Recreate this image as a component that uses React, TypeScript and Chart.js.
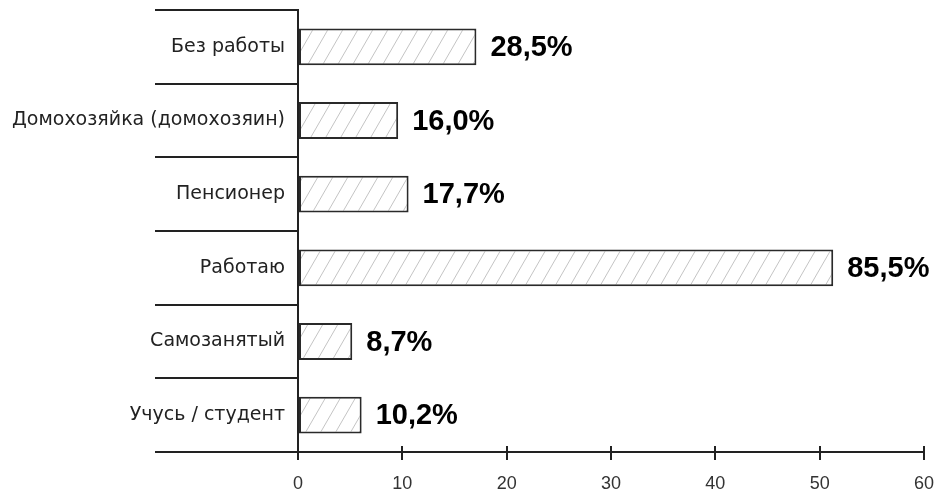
import React, { useEffect, useRef } from "react";
import { Chart, registerables } from "chart.js";

Chart.register(...registerables);

const categories = [
  "Без работы",
  "Домохозяйка (домохозяин)",
  "Пенсионер",
  "Работаю",
  "Самозанятый",
  "Учусь / студент",
];
const barValues = [17.1, 9.6, 10.6, 51.3, 5.2, 6.1];
const valueLabels = ["28,5%", "16,0%", "17,7%", "85,5%", "8,7%", "10,2%"];
const xTicks = [0, 10, 20, 30, 40, 50, 60];

const FONT = "'Liberation Sans', Arial, sans-serif";
const LABEL_FONT = "'DejaVu Sans', Verdana, sans-serif";

function makeHatch(): CanvasPattern | string {
  const c = document.createElement("canvas");
  const w = 15;
  const h = 26;
  c.width = w;
  c.height = h;
  const g = c.getContext("2d");
  if (!g) return "#fff";
  g.fillStyle = "#ffffff";
  g.fillRect(0, 0, w, h);
  g.strokeStyle = "#c4c4c4";
  g.lineWidth = 1;
  g.beginPath();
  const dx = w / h;
  g.moveTo(-2 * dx, h + 2);
  g.lineTo(w + 2 * dx, -2);
  g.moveTo(-w - 2 * dx, h + 2);
  g.lineTo(2 * dx, -2);
  g.moveTo(w - 2 * dx, h + 2);
  g.lineTo(2 * w + 2 * dx, -2);
  g.stroke();
  const p = g.createPattern(c, "repeat");
  return p || "#fff";
}

const valueLabelPlugin = {
  id: "valueLabels",
  afterDatasetsDraw(chart: any) {
    const ctx = chart.ctx;
    const meta = chart.getDatasetMeta(0);
    ctx.save();
    ctx.font = `bold 29px ${FONT}`;
    ctx.fillStyle = "#000";
    ctx.textAlign = "left";
    ctx.textBaseline = "middle";
    meta.data.forEach((bar: any, i: number) => {
      ctx.fillText(valueLabels[i], bar.x + 14, bar.y + 1);
    });
    ctx.restore();
  },
};

const upTicksPlugin = {
  id: "upTicks",
  afterDraw(chart: any) {
    const ctx = chart.ctx;
    const xs = chart.scales.x;
    const y = chart.chartArea.bottom;
    ctx.save();
    ctx.strokeStyle = "#222";
    ctx.lineWidth = 2;
    ctx.beginPath();
    xs.ticks.forEach((t: any) => {
      const px = Math.round(xs.getPixelForValue(t.value));
      ctx.moveTo(px, y);
      ctx.lineTo(px, y - 6);
    });
    ctx.stroke();
    ctx.restore();
  },
};

export default function App() {
  const ref = useRef<HTMLCanvasElement | null>(null);
  useEffect(() => {
    if (!ref.current) return;
    const hatch = makeHatch();
    const chart = new Chart(ref.current, {
      type: "bar",
      data: {
        labels: categories,
        datasets: [
          {
            data: barValues,
            backgroundColor: hatch as any,
            borderColor: "#2a2a2a",
            borderWidth: 2,
            borderSkipped: false,
            barPercentage: 0.5,
            categoryPercentage: 1,
          },
        ],
      },
      options: {
        indexAxis: "y",
        animation: false,
        responsive: true,
        maintainAspectRatio: false,
        layout: { padding: { left: 8, right: 14, top: 10, bottom: 0 } },
        plugins: { legend: { display: false }, tooltip: { enabled: false } },
        scales: {
          x: {
            type: "linear",
            min: 0,
            max: 60,
            afterBuildTicks(scale: any) {
              scale.ticks = xTicks.map((v) => ({ value: v }));
            },
            afterFit(scale: any) {
              scale.height = 43;
              scale.paddingLeft = 0;
              scale.paddingRight = 0;
            },
            grid: {
              drawOnChartArea: false,
              drawTicks: true,
              tickLength: 8,
              color: "#222",
              lineWidth: 2,
            },
            border: { display: true, color: "#222", width: 2 },
            ticks: {
              color: "#333",
              padding: 13,
              font: { family: FONT, size: 18 },
              maxRotation: 0,
            },
          },
          y: {
            type: "category",
            afterFit(scale: any) {
              scale.width = 290;
            },
            grid: {
              offset: true,
              drawOnChartArea: false,
              drawTicks: true,
              tickLength: 143,
              color: "#222",
              lineWidth: 2,
            },
            border: { display: true, color: "#222", width: 2 },
            ticks: {
              color: "#222",
              padding: -130,
              font: { family: LABEL_FONT, size: 19 },
              autoSkip: false,
            },
          },
        },
      } as any,
      plugins: [valueLabelPlugin, upTicksPlugin],
    });
    return () => chart.destroy();
  }, []);
  return (
    <div
      style={{
        position: "absolute",
        left: 0,
        top: 0,
        width: 938,
        height: 495,
      }}
    >
      <canvas ref={ref} />
    </div>
  );
}
